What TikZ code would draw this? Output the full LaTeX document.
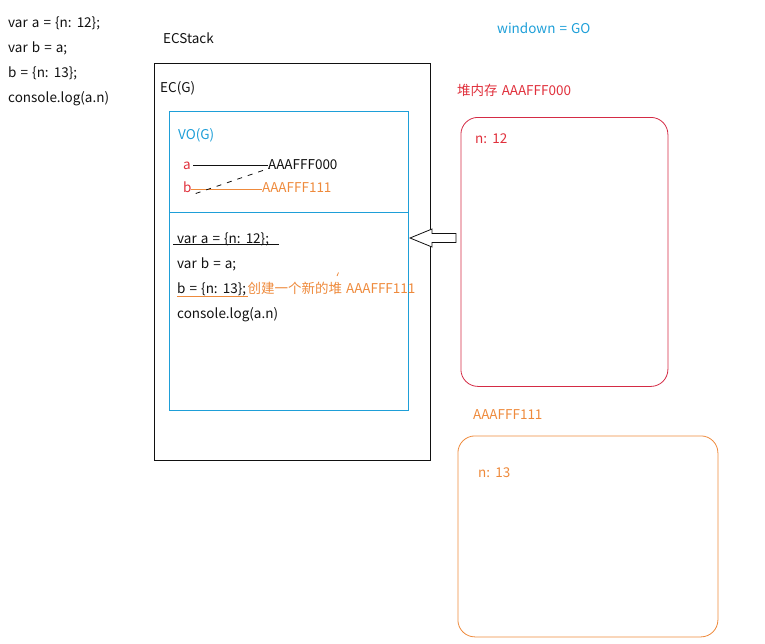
\documentclass[tikz,border=0pt]{standalone}
\usepackage{fontspec}
\setmainfont[WordSpace=1.35]{Noto Sans CJK SC}
\usetikzlibrary{positioning}
\definecolor{sketchInk}{HTML}{111111}
\definecolor{sketchRed}{HTML}{E0303C}
\definecolor{sketchCrimson}{HTML}{D42B45}
\definecolor{sketchOrange}{HTML}{EE8A3C}
\definecolor{sketchCyan}{HTML}{1E9FD8}
\tikzset{
  codeText/.style={
    anchor=base west,
    inner sep=0pt,
    text=sketchInk,
    font=\fontsize{13.5}{16}\selectfont
  },
  redText/.style={
    codeText,
    text=sketchRed
  },
  orangeText/.style={
    codeText,
    text=sketchOrange
  },
  cyanText/.style={
    codeText,
    text=sketchCyan
  },
  stackBox/.style={
    rectangle,
    draw=sketchInk,
    line width=0.8pt,
    anchor=north west,
    inner sep=0pt
  },
  scopeBox/.style={
    rectangle,
    draw=sketchCyan,
    line width=0.8pt,
    anchor=north west,
    inner sep=0pt
  },
  heapBox/.style={
    rectangle,
    rounded corners=17pt,
    line width=0.8pt,
    anchor=north west,
    inner sep=0pt
  },
  pointerLine/.style={
    line width=0.8pt,
    draw=sketchInk
  },
  accentLine/.style={
    line width=0.8pt,
    draw=sketchOrange
  },
  hollowArrow/.style={
    line width=0.8pt,
    draw=sketchInk,
    fill=white
  }
}

\begin{document}
\begin{tikzpicture}[x=1pt,y=-1pt,node distance=25pt]
  \useasboundingbox (0,0) rectangle (765,643);
  \node[codeText] (srcA) at (8,27) {var a = \{n: 12\};};
  \node[codeText,below=of srcA.base west,anchor=base west] (srcB) {var b = a;};
  \node[codeText,below=of srcB.base west,anchor=base west] (srcC) {b = \{n: 13\};};
  \node[codeText,below=of srcC.base west,anchor=base west] (srcD) {console.log(a.n)};

  \node[codeText] (stackTitle) at (163,43) {ECStack};
  \node[stackBox,minimum width=276pt,minimum height=397pt] (ecBox) at (154,63) {};
  \node[codeText] (ecTitle) at (160,92) {EC(G)};
  \node[scopeBox,minimum width=239pt,minimum height=299pt] (voBox) at (169,111) {};
  \coordinate (splitLeft) at (169,212);
  \coordinate (splitRight) at (408,212);
  \draw[line width=0.8pt,draw=sketchCyan] (splitLeft) -- (splitRight);
  \node[cyanText] (voTitle) at (178,139) {VO(G)};

  \node[redText] (varA) at (183,169) {a};
  \node[codeText] (addrA) at (268,169) {AAAFFF000};
  \node[redText] (varB) at (183,192.5) {b};
  \node[orangeText] (addrB) at (262,192.5) {AAAFFF111};
  \draw[pointerLine] ([xshift=2pt,yshift=4pt]varA.base east) -- ([yshift=4pt]addrA.base west);
  \draw[accentLine] ([xshift=-1pt,yshift=3pt]varB.base east) -- ([yshift=3pt]addrB.base west);
  \draw[pointerLine,dash pattern=on 5pt off 6pt] ([xshift=4pt,yshift=-1pt]varB.base east) -- ([xshift=2pt,yshift=1pt]addrA.base west);

  \node[codeText] (codeA) at (177,243) {var a = \{n: 12\};};
  \node[codeText,below=of codeA.base west,anchor=base west] (codeB) {var b = a;};
  \node[codeText,below=of codeB.base west,anchor=base west] (codeC) {b = \{n: 13\};};
  \node[orangeText] (newHeap) at ([xshift=1pt]codeC.base east) {创建一个新的堆 AAAFFF111};
  \node[codeText,below=of codeC.base west,anchor=base west] (codeD) {console.log(a.n)};
  \draw[pointerLine] ([xshift=-4pt,yshift=1pt]codeA.south west) -- ([xshift=10pt,yshift=1pt]codeA.south east);
  \draw[accentLine] ([yshift=-1pt]codeC.south west) -- ([xshift=2pt,yshift=-1pt]codeC.south east);
  \draw[accentLine] (337,276) -- (338.5,272.5);

  \coordinate (arrowTip) at (410,238);
  \draw[hollowArrow] (arrowTip) -- ++(22,-9) -- ++(0,4.5) -- ++(24,0) -- ++(0,9)
    -- ++(-24,0) -- ++(0,4.5) -- cycle;

  \node[cyanText] (windowNote) at (497,33) {windown = GO};
  \node[redText] (heapTitleA) at (457,95) {堆内存 AAAFFF000};
  \node[heapBox,draw=sketchCrimson,minimum width=207pt,minimum height=269pt] (heapA) at (460.5,117) {};
  \node[redText] (heapValA) at (475,143) {n: 12};
  \node[orangeText] (heapTitleB) at (473,419) {AAAFFF111};
  \node[heapBox,draw=sketchOrange,minimum width=260pt,minimum height=201pt] (heapB) at (457.5,435.5) {};
  \node[orangeText] (heapValB) at (478,477) {n: 13};
\end{tikzpicture}
\end{document}
